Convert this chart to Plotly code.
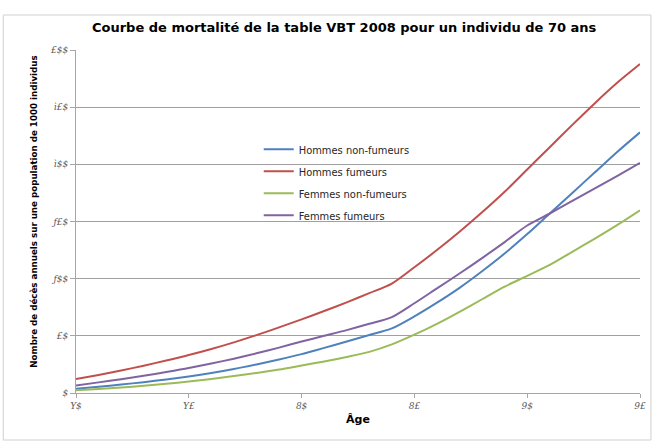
import plotly.graph_objects as go

ages = list(range(70, 96))

hommes_non_fumeurs = [3.7, 5.5, 7.4, 9.5, 11.9, 14.5, 17.5, 21.0, 25.0, 29.3, 34.0,
                      39.5, 45.0, 50.7, 56.5, 67.0, 79.0, 92.0, 106.5, 122.0, 139.0,
                      157.0, 175.0, 193.0, 211.0, 228.0]
hommes_fumeurs = [12.2, 15.8, 19.7, 23.9, 28.4, 33.2, 38.5, 44.3, 50.6, 57.4, 64.4,
                  71.7, 79.3, 87.3, 95.7, 110.0, 125.0, 141.0, 158.0, 176.0, 195.5,
                  215.0, 234.5, 253.5, 271.5, 287.7]
femmes_non_fumeurs = [2.3, 3.5, 4.8, 6.3, 8.1, 10.0, 12.3, 14.8, 17.5, 20.5, 24.0,
                      27.5, 31.5, 36.0, 42.5, 51.0, 60.5, 71.0, 82.0, 93.0, 102.5,
                      112.0, 123.5, 135.0, 147.0, 159.8]
femmes_fumeurs = [6.6, 9.3, 12.0, 15.0, 18.3, 21.8, 25.8, 30.0, 34.7, 39.7, 45.0,
                  50.0, 55.0, 60.5, 66.4, 78.5, 91.5, 104.5, 118.0, 132.0, 146.5,
                  157.0, 168.0, 179.0, 190.0, 201.2]

series_names = ["Hommes non-fumeurs", "Hommes fumeurs", "Femmes non-fumeurs", "Femmes fumeurs"]
series_values = [hommes_non_fumeurs, hommes_fumeurs, femmes_non_fumeurs, femmes_fumeurs]
series_colors = ["#4F81BD", "#C0504D", "#9BBB59", "#8064A2"]

x_tickvals = [70, 75, 80, 85, 90, 95]
x_ticktext = ["Y$", "Y£", "8$", "8£", "9$", "9£"]
y_tickvals = [0, 50, 100, 150, 200, 250, 300]
y_ticktext = ["$", "£$", "ƒ$$", "ƒ£$", "ì$$", "ì£$", "£$$"]

title_text = "Courbe de mortalité de la table VBT 2008 pour un individu de 70 ans"
y_title = "Nombre de décès annuels sur une population de 1000 individus"
x_title = "Âge"

fig = go.Figure()
for i, (name, vals, col) in enumerate(zip(series_names, series_values, series_colors)):
    fig.add_trace(go.Scatter(
        x=ages, y=vals, name=name, mode="lines",
        line=dict(color=col, width=2, shape="spline", smoothing=0.8),
        legendgroup="g%d" % i,
    ))

tick_font = dict(family="DejaVu Serif", size=9, color="#595959", style="italic")

fig.update_layout(
    width=658, height=445,
    margin=dict(l=76, r=16, t=50, b=52),
    paper_bgcolor="white", plot_bgcolor="white",
    title=dict(text="<b>" + title_text + "</b>", x=0.523, xanchor="center",
               y=1 - 27 / 445, yanchor="middle",
               font=dict(family="DejaVu Sans", size=13, color="#000000")),
    showlegend=True,
    legend=dict(x=0.324, y=0.753, xanchor="left", yanchor="top",
                bgcolor="rgba(0,0,0,0)", tracegroupgap=3,
                font=dict(family="DejaVu Sans Condensed, DejaVu Sans", size=11, color="#262626"),
                itemwidth=30),
    xaxis=dict(range=[70, 95], tickvals=x_tickvals, ticktext=x_ticktext,
               showgrid=False, zeroline=False, showline=True, linecolor="#A6A6A6",
               linewidth=1, ticks="outside", ticklen=4, tickcolor="#A6A6A6",
               tickfont=tick_font,
               title=dict(text="<b>" + x_title + "</b>", standoff=5,
                          font=dict(family="DejaVu Sans", size=11, color="#000000"))),
    yaxis=dict(range=[0, 300], tickvals=y_tickvals, ticktext=y_ticktext,
               showgrid=True, gridcolor="#A0A0A0", gridwidth=1, zeroline=False,
               showline=True, linecolor="#A6A6A6", linewidth=1,
               ticks="outside", ticklen=5, tickcolor="#A6A6A6",
               tickfont=tick_font),
    annotations=[dict(text="<b>" + y_title + "</b>", textangle=-90,
                      xref="paper", yref="paper",
                      x=(33 - 76) / 566, y=(393 - 211.5) / 343,
                      xanchor="center", yanchor="middle", showarrow=False,
                      font=dict(family="DejaVu Sans", size=8.7, color="#000000"))],
    shapes=[dict(type="rect", xref="paper", yref="paper",
                 x0=(3 - 76) / 566, x1=(653 - 76) / 566,
                 y0=(393 - 440) / 343, y1=(393 - 15) / 343,
                 line=dict(color="#D0D0D0", width=1), fillcolor="rgba(0,0,0,0)",
                 layer="below")],
)

fig.write_html("out.html", config={"displayModeBar": False},
               post_script="document.body.style.margin='0';document.body.style.overflow='hidden';")
